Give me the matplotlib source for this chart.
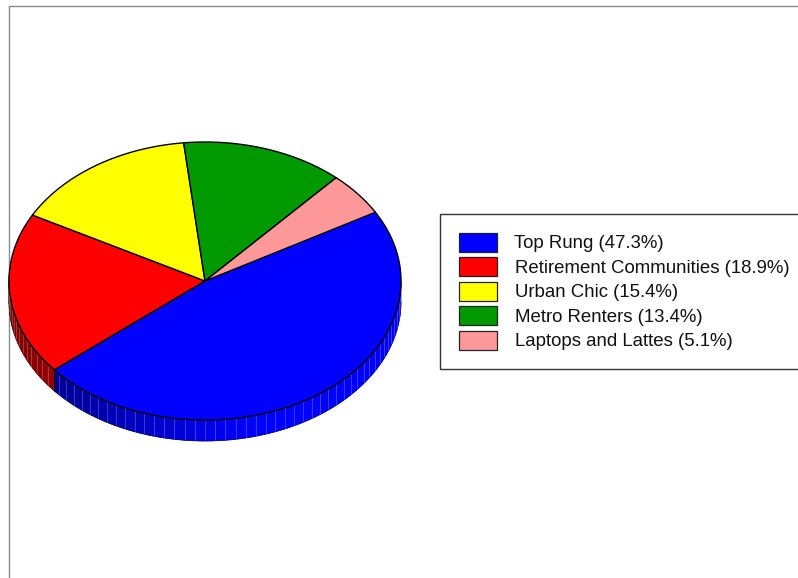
import numpy as np
import matplotlib
matplotlib.use("Agg")
import matplotlib.pyplot as plt
from matplotlib.patches import Rectangle

segments = ["Top Rung", "Retirement Communities", "Urban Chic", "Metro Renters", "Laptops and Lattes"]
shares = [47.3, 18.9, 15.4, 13.4, 5.1]
colors = ["#0000ff", "#ff0000", "#ffff00", "#009900", "#ff9999"]

plt.rcParams['font.family'] = ['Liberation Sans', 'DejaVu Sans']

# pie geometry in pixels
cx, cy = 205, 281
rx, ry = 196, 139
depth = 21
start_angle = 30
facet_step = 3

fig = plt.figure(figsize=(7.98, 5.78), dpi=100)
ax = fig.add_axes([0, 0, 1, 1])
ax.set_xlim(0, 798)
ax.set_ylim(578, 0)
ax.axis("off")


def rim(angles, shift=0):
    t = np.radians(angles)
    return cx + rx * np.cos(t), cy - ry * np.sin(t) + shift


# plot frame, only top and left are visible
ax.plot([798, 9, 9], [6, 6, 578], color="#8c8c8c", lw=1.0, zorder=1)

# === side of the pie, one facet at a time ===
a = start_angle
edges = []
for share, col in zip(shares, colors):
    sweep = share / 100 * 360
    edges.append((a, a - sweep, col))
    a -= sweep

for a0, a1, col in edges:
    steps = np.arange(a0, a1, -facet_step)
    steps = np.append(steps, a1)
    rgb = np.array(matplotlib.colors.to_rgb(col))
    for s0, s1 in zip(steps[:-1], steps[1:]):
        mid = (s0 + s1) / 2
        if np.sin(np.radians(mid)) > 0.02:
            continue
        # darker to the left, brighter to the right
        u = (np.cos(np.radians(mid)) + 1) / 2
        shade = min(1, 0.5 + 0.8 * u)
        x0, y0 = rim(np.linspace(s0, s1, 4))
        x1, y1 = rim(np.linspace(s1, s0, 4), depth)
        ax.fill(np.r_[x0, x1], np.r_[y0, y1], facecolor=rgb * shade, edgecolor=rgb * shade,
                lw=0.5, zorder=2)
        lx, ly = rim(np.array([s1]))
        ax.plot([lx[0], lx[0]], [ly[0], ly[0] + depth], color="white", alpha=0.22, lw=0.7, zorder=3)

# lower outline of the side
low_x, low_y = rim(np.linspace(180, 360, 200), depth)
ax.plot(low_x, low_y, color="black", lw=0.4, alpha=0.7, zorder=4)

# seam where blue meets red on the side
sx, sy = rim(np.array([edges[0][1]]))
ax.plot([sx[0], sx[0]], [sy[0], sy[0] + depth], color="black", lw=0.6, zorder=4)

# === top of the pie ===
for a0, a1, col in edges:
    x, y = rim(np.linspace(a0, a1, 150))
    ax.fill(np.r_[cx, x], np.r_[cy, y], facecolor=col, edgecolor="black", lw=1.0,
            joinstyle="round", zorder=5)

# === legend ===
ax.add_patch(Rectangle((440, 213.5), 380, 155, facecolor="white", edgecolor="#333333",
                       lw=1.0, zorder=6, clip_on=True))
for i, (name, share, col) in enumerate(zip(segments, shares, colors)):
    y = 242.5 + i * 24.4
    ax.add_patch(Rectangle((459, y - 9.5), 38, 19, facecolor=col, edgecolor="#222222",
                           lw=0.9, zorder=7))
    ax.text(514 if i == 0 else 515, y + 1.5, f"{name} ({share}%)", fontsize=13.4, color="#111111",
            va="center", ha="left", zorder=7)

fig.savefig("out.png", dpi=100)
